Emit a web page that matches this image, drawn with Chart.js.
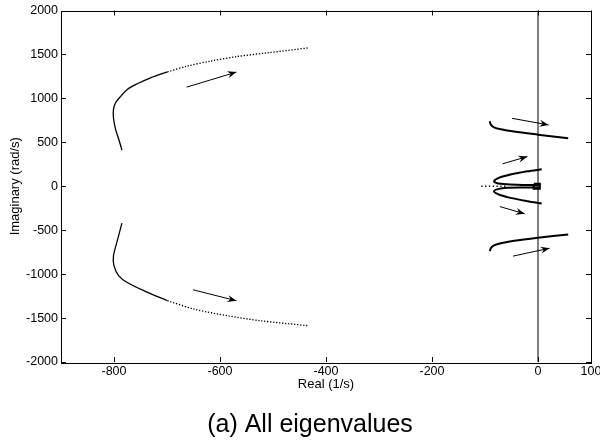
<!DOCTYPE html>
<html>
<head>
<meta charset="utf-8">
<script src="https://cdn.jsdelivr.net/npm/chart.js@4"></script>
<style>
  html, body { margin: 0; padding: 0; background: #fff; }
  #wrap { width: 600px; height: 442px; }
</style>
</head>
<body>
<div id="wrap"><canvas id="c"></canvas></div>
<script>
// eigenvalue branches, [real, imag] pairs
const upperLeftSolid = [[-785, 412], [-790, 515], [-797, 647], [-801, 780], [-801, 875], [-797, 950],
  [-787, 1026], [-775, 1102], [-756, 1166], [-731, 1234], [-699, 1302]];
const upperLeftDotted = [[-699, 1302], [-662, 1367], [-618, 1424], [-567, 1477], [-511, 1518], [-432, 1575]];
const lowerLeftSolid = [[-785, -420], [-793, -602], [-801, -792], [-800, -906], [-791, -1019], [-775, -1095],
  [-743, -1190], [-699, -1303]];
const lowerLeftDotted = [[-699, -1303], [-649, -1398], [-586, -1474], [-523, -1531], [-432, -1588]];

const upperRight = [[-91, 739], [-89, 701], [-83, 670], [-70, 648], [-45, 622], [0, 587], [57, 545]];
const lowerRight = [[-91, -739], [-89, -705], [-83, -674], [-70, -648], [-45, -620], [0, -586], [57, -549]];
const upperInner = [[7, 193], [-20, 170], [-52, 133], [-74, 95], [-83, 57], [-77, 35], [-58, 22], [-30, 15], [0, 12]];
const lowerInner = [[7, -197], [-20, -170], [-52, -132], [-74, -94], [-83, -57], [-74, -30], [-58, -18], [-30, -15], [0, -15]];
const originCluster = [[-8, 25], [3, 25], [3, -25], [-8, -25], [-8, 25]];
const realAxisDots = [[-107, 0], [-60, 0]];
const imagAxis = [[0, -2000], [0, 2000]];

// direction arrows: [start, end]
const arrows = [
  [[-663, 1128], [-569, 1299]],
  [[-651, -1178], [-569, -1303]],
  [[-49, 773], [20, 698]],
  [[-67, 255], [-20, 338]],
  [[-72, -231], [-25, -314]],
  [[-47, -795], [22, -705]]
];

const xTicks = [-800, -600, -400, -200, 0, 100];
const yTicks = [-2000, -1500, -1000, -500, 0, 500, 1000, 1500, 2000];

const pts = arr => arr.map(p => ({ x: p[0], y: p[1] }));
const curve = (arr, width, dash) => ({
  data: pts(arr), showLine: true, borderColor: '#000', borderWidth: width,
  borderDash: dash || [], pointRadius: 0, fill: false, tension: 0.3
});

const datasets = [
  { ...curve(imagAxis, 1), tension: 0 },
  curve(upperLeftSolid, 1.3),
  curve(upperLeftDotted, 1.3, [1.3, 1.7]),
  curve(lowerLeftSolid, 1.3),
  curve(lowerLeftDotted, 1.3, [1.3, 1.7]),
  curve(upperRight, 2),
  curve(lowerRight, 2),
  curve(upperInner, 2),
  curve(lowerInner, 2),
  { ...curve(originCluster, 2.5), tension: 0 },
  { ...curve(realAxisDots, 1.3, [1.3, 2.5]), tension: 0 }
];
arrows.forEach(a => datasets.push({ ...curve(a, 1), tension: 0, arrow: true }));

const FONT = "'Liberation Sans', Arial, sans-serif";

// MATLAB style box with inward ticks + arrowheads
const boxAndArrows = {
  id: 'boxAndArrows',
  afterLayout(chart) {
    const t = chart.titleBlock;
    if (t) t.left += 20;
  },
  afterDatasetsDraw(chart) {
    const { ctx, chartArea: a, scales: { x, y } } = chart;
    ctx.save();
    ctx.strokeStyle = '#000';
    ctx.fillStyle = '#000';
    ctx.lineWidth = 1;
    ctx.strokeRect(Math.round(a.left) + 0.5, Math.round(a.top) + 0.5,
      Math.round(a.right - a.left), Math.round(a.bottom - a.top));
    const len = 5;
    ctx.beginPath();
    x.ticks.forEach(t => {
      const px = Math.round(x.getPixelForValue(t.value)) + 0.5;
      ctx.moveTo(px, a.bottom); ctx.lineTo(px, a.bottom - len);
      ctx.moveTo(px, a.top); ctx.lineTo(px, a.top + len);
    });
    y.ticks.forEach(t => {
      const py = Math.round(y.getPixelForValue(t.value)) + 0.5;
      ctx.moveTo(a.left, py); ctx.lineTo(a.left + len, py);
      ctx.moveTo(a.right, py); ctx.lineTo(a.right - len, py);
    });
    ctx.stroke();

    chart.data.datasets.forEach((ds, i) => {
      if (!ds.arrow) return;
      const d = chart.getDatasetMeta(i).data;
      const p0 = d[0], p1 = d[1];
      const ang = Math.atan2(p1.y - p0.y, p1.x - p0.x);
      const L = 9, W = 3.5;
      ctx.save();
      ctx.translate(p1.x, p1.y);
      ctx.rotate(ang);
      ctx.beginPath();
      ctx.moveTo(0, 0);
      ctx.lineTo(-L, -W);
      ctx.lineTo(-L + 3, 0);
      ctx.lineTo(-L, W);
      ctx.closePath();
      ctx.fill();
      ctx.restore();
    });
    ctx.restore();
  }
};

new Chart(document.getElementById('c'), {
  type: 'scatter',
  data: { datasets },
  options: {
    responsive: true,
    maintainAspectRatio: false,
    animation: false,
    layout: { padding: { top: 10, right: 0, left: 0, bottom: 0 } },
    plugins: {
      legend: { display: false },
      tooltip: { enabled: false },
      title: {
        display: true,
        position: 'bottom',
        text: '(a) All eigenvalues',
        color: '#000',
        font: { family: FONT, size: 25, weight: 'normal' },
        padding: { top: 14, bottom: 2 }
      }
    },
    scales: {
      x: {
        type: 'linear',
        min: -900, max: 100,
        afterBuildTicks: s => { s.ticks = xTicks.map(v => ({ value: v })); },
        afterFit: s => { s.height = 34; s.paddingLeft = 0; s.paddingRight = 9; },
        grid: { display: false, drawTicks: false },
        border: { display: false },
        ticks: { color: '#000', font: { family: FONT, size: 12.5 }, padding: 2, maxRotation: 0,
          callback: v => String(v) },
        title: { display: true, text: 'Real (1/s)', color: '#000',
          font: { family: FONT, size: 13 }, padding: { top: 0, bottom: 4 } }
      },
      y: {
        type: 'linear',
        min: -2000, max: 2000,
        afterBuildTicks: s => { s.ticks = yTicks.map(v => ({ value: v })); },
        afterFit: s => { s.width = 61; },
        grid: { display: false, drawTicks: false },
        border: { display: false },
        ticks: { color: '#000', font: { family: FONT, size: 12.5 }, padding: 3,
          callback: v => String(v) },
        title: { display: true, text: 'Imaginary (rad/s)', color: '#000',
          font: { family: FONT, size: 13 }, padding: { top: 8, bottom: 0 } }
      }
    }
  },
  plugins: [boxAndArrows]
});
</script>
</body>
</html>
